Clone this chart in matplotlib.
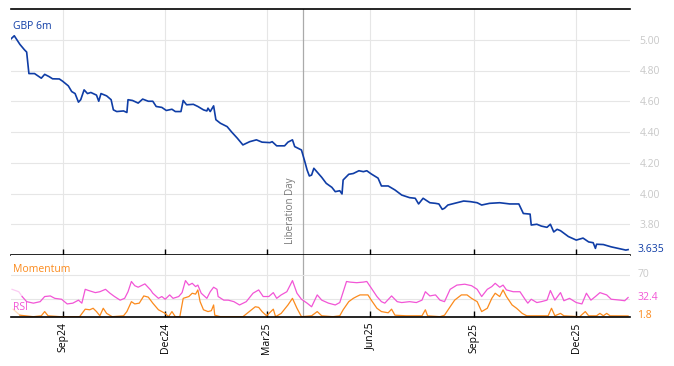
import matplotlib
matplotlib.use('Agg')
import matplotlib.pyplot as plt
import matplotlib.dates as mdates
import pandas as pd

# all x positions are days counted from 1 Sep 2024
origin = pd.Timestamp('2024-09-01')

gbp_day = [-46, -43, -38, -34, -32, -30, -25, -19, -16, -12, -9, -3, 0, 5, 8, 11, 14, 16, 19, 22,
           25, 30, 32, 34, 39, 43, 45, 48, 54, 57, 58, 62, 67, 71, 76, 80, 83, 88, 92, 97,
           100, 105, 107, 110, 116, 120, 125, 128, 129, 131, 134, 136, 140, 146, 150, 155, 160, 166, 172, 177,
           184, 186, 190, 197, 200, 204, 206, 212, 215, 217, 219, 221, 223, 227, 230, 234, 239, 242, 246, 248,
           249, 254, 258, 263, 267, 270, 274, 280, 283, 289, 295, 301, 308, 313, 316, 320, 326, 331, 334, 337,
           339, 342, 348, 356, 362, 368, 372, 379, 388, 397, 405, 409, 415, 416, 421, 425, 430, 433, 436, 439,
           442, 449, 456, 462, 467, 471, 473, 474, 480, 487, 495, 500, 502]
gbp_6m = [5.005, 5.026, 4.97, 4.935, 4.92, 4.78, 4.78, 4.75, 4.775, 4.76, 4.746, 4.745, 4.73, 4.70, 4.663, 4.65, 4.594, 4.61, 4.674, 4.65,
          4.657, 4.64, 4.60, 4.65, 4.635, 4.61, 4.544, 4.533, 4.537, 4.527, 4.61, 4.605, 4.588, 4.614, 4.60, 4.60, 4.566, 4.56, 4.54, 4.548,
          4.533, 4.533, 4.605, 4.577, 4.58, 4.566, 4.544, 4.537, 4.555, 4.533, 4.57, 4.48, 4.457, 4.435, 4.40, 4.36, 4.316, 4.337, 4.349, 4.334,
          4.331, 4.337, 4.31, 4.31, 4.334, 4.349, 4.305, 4.283, 4.207, 4.153, 4.114, 4.12, 4.164, 4.13, 4.105, 4.066, 4.04, 4.012, 4.018, 3.997,
          4.088, 4.125, 4.13, 4.148, 4.142, 4.148, 4.127, 4.10, 4.049, 4.049, 4.023, 3.99, 3.973, 3.969, 3.932, 3.969, 3.94, 3.936, 3.932, 3.897,
          3.904, 3.925, 3.936, 3.951, 3.947, 3.94, 3.925, 3.936, 3.94, 3.932, 3.932, 3.87, 3.866, 3.795, 3.80, 3.788, 3.78, 3.80, 3.75, 3.767,
          3.758, 3.72, 3.697, 3.71, 3.685, 3.68, 3.643, 3.67, 3.668, 3.653, 3.64, 3.632, 3.635]

rsi_day = [-45, -39, -36, -32, -26, -20, -16, -11, -7, -1, 4, 9, 14, 17, 20, 23, 29, 33, 38, 42,
           46, 51, 55, 58, 61, 64, 67, 73, 78, 80, 85, 88, 91, 95, 98, 103, 106, 109, 112, 115,
           118, 120, 123, 128, 131, 134, 137, 138, 143, 147, 152, 157, 163, 169, 174, 178, 183, 187, 190, 194,
           199, 202, 204, 208, 212, 217, 221, 226, 230, 236, 242, 246, 252, 255, 261, 267, 270, 274, 279, 283,
           286, 292, 297, 301, 308, 314, 319, 322, 326, 331, 335, 339, 344, 350, 357, 363, 368, 372, 377, 381,
           384, 388, 391, 394, 400, 406, 411, 413, 416, 421, 425, 430, 433, 437, 442, 445, 450, 456, 461, 465,
           469, 473, 477, 483, 487, 495, 499, 502]
rsi = [46, 42, 34, 25.5, 23, 25.5, 34, 35, 31, 29.5, 21.7, 23, 28, 23, 46, 44, 40.5, 42, 46, 39.5,
       34, 28, 31, 42, 59, 52, 49.5, 55, 45, 39.5, 31, 34, 29.5, 36.7, 31, 34, 40.5, 60.5, 53, 56,
       50.5, 53, 39.5, 31, 42, 49.5, 46, 34, 28, 28, 25.5, 20, 25.5, 39.5, 45, 34, 34, 40.5, 31, 36.7,
       42, 53, 60.5, 39.5, 29.5, 23, 17, 36.7, 28, 23, 20, 24, 59, 58, 57, 58, 59, 48, 34, 25.5,
       23, 35, 25.5, 24, 25.5, 24, 28, 42, 35, 36.7, 28, 25.5, 46, 53, 54.5, 52, 46, 34, 46, 50.5,
       56, 49.5, 53, 45, 42, 42, 28, 23, 29.5, 24, 25.5, 28, 44, 28, 40.5, 27, 31, 24, 21.7, 39.5,
       28, 34, 40.5, 36.7, 29.5, 28, 27, 32.4]

mom_day = [-44, -38, -26, -19, -16, -13, -2, 15, 20, 24, 27, 30, 33, 36, 39, 44, 54, 57, 61, 64,
           68, 72, 76, 80, 85, 88, 91, 94, 97, 100, 104, 107, 112, 115, 118, 120, 122, 125, 129, 132,
           134, 135, 140, 160, 166, 171, 174, 177, 181, 187, 189, 194, 200, 204, 208, 212, 221, 226, 230, 240,
           246, 249, 254, 258, 261, 264, 271, 274, 279, 283, 289, 292, 295, 305, 319, 322, 324, 335, 339, 344,
           348, 354, 359, 363, 368, 372, 377, 381, 384, 388, 391, 394, 399, 403, 408, 412, 431, 434, 437, 442,
           445, 459, 464, 467, 474, 477, 480, 483, 486, 502]
momentum = [13, 3, 0.5, 2, 9, 2, 0.5, 0.5, 13, 12, 14.5, 9, 2, 14.5, 6, 0.5, 2, 9, 25.5, 21.7,
            23, 35, 33, 23, 12, 9, 6, 0.5, 9, 0.5, 0.5, 31, 34, 39.5, 38, 45, 25.5, 12, 9, 10.5,
            20, 3, 0.5, 0.5, 9.5, 17, 16, 9, 2, 13, 0.5, 6, 20, 31, 14.5, 0.5, 2, 9, 2, 0.5,
            2, 12, 25.5, 31, 34, 36.7, 36.7, 28, 14.5, 9, 7, 13, 3, 2, 2, 12, 2, 0.5, 3, 17,
            28, 36.7, 36.7, 31, 25.5, 9, 14.5, 31, 39.5, 34, 45, 34, 20, 14.5, 6, 2, 2, 14.5, 2, 6,
            2, 0.5, 9, 2, 2, 6, 2, 6, 2, 1.8]

tick_dates = ['2024-09-01', '2024-12-01', '2025-03-01', '2025-06-01', '2025-09-01', '2025-12-01']
price_ticks = [3.80, 4.00, 4.20, 4.40, 4.60, 4.80, 5.00]
liberation_day = '2025-04-02'

BLUE = '#0f3da6'
PINK = '#f255d6'
ORANGE = '#fb8a1c'
GRID = '#e6e6e6'
LABEL = '#c8c8c8'

plt.rcParams['font.family'] = ['Open Sans', 'DejaVu Sans']


def to_dates(days):
    return origin + pd.to_timedelta(days, unit='D')


fig = plt.figure(figsize=(6.74, 3.66), dpi=100)
ax = fig.add_axes([11 / 674, 1 - 255 / 366, 619 / 674, 246 / 366])
ax2 = fig.add_axes([11 / 674, 1 - 317 / 366, 619 / 674, 62 / 366], sharex=ax)

x_lo = origin + pd.Timedelta(days=-45.9)
x_hi = origin + pd.Timedelta(days=503.7)
ticks = pd.to_datetime(tick_dates)
lib = pd.Timestamp(liberation_day)

# price panel
ax.plot(to_dates(gbp_day), gbp_6m, color=BLUE, lw=1.2, zorder=3)
ax.set_xlim(x_lo, x_hi)
ax.set_ylim(3.60, 5.20)
ax.set_yticks(price_ticks)
ax.yaxis.tick_right()
ax.tick_params(axis='y', length=0, labelsize=7.5, labelcolor=LABEL, pad=7)
ax.set_yticklabels([f'{v:.2f}' for v in price_ticks])
ax.set_xticks(ticks)
ax.tick_params(axis='x', direction='in', length=4, width=1, color='black', labelbottom=False)
ax.grid(True, color=GRID, lw=0.8)
for s in ['left', 'right']:
    ax.spines[s].set_visible(False)
for s in ['top', 'bottom']:
    ax.spines[s].set_linewidth(1.2)
ax.axvline(lib, color='#aaaaaa', lw=0.9, zorder=2)
ax.text(lib - pd.Timedelta(days=6), 3.67, 'Liberation Day', rotation=90, ha='right', va='bottom',
        fontsize=7, color='#777777')
ax.text(0.004, 0.93, 'GBP 6m', transform=ax.transAxes, color=BLUE, fontsize=7.5, va='center')
ax.text(1.012, (gbp_6m[-1] - 3.60) / 1.60, f'{gbp_6m[-1]:.3f}', transform=ax.transAxes,
        color=BLUE, fontsize=7.5, va='center')

# oscillator panel
r_dates = to_dates(rsi_day)
m_dates = to_dates(mom_day)
ax2.plot(r_dates[:3], rsi[:3], color=PINK, lw=0.9, alpha=0.3)
ax2.plot(r_dates[2:], rsi[2:], color=PINK, lw=0.9)
ax2.plot(m_dates[:2], momentum[:2], color=ORANGE, lw=0.9, alpha=0.3)
ax2.plot(m_dates[1:], momentum[1:], color=ORANGE, lw=0.9)
ax2.axvline(lib, color='#aaaaaa', lw=0.9, zorder=0)
ax2.set_ylim(0, 103)
ax2.set_yticks([30, 70])
ax2.grid(True, color=GRID, lw=0.8)
ax2.yaxis.tick_right()
ax2.set_yticklabels([])
ax2.tick_params(axis='y', length=0)
ax2.tick_params(axis='x', direction='in', length=4, width=1, color='black',
                labelrotation=90, labelsize=7.5, pad=4)
ax2.xaxis.set_major_formatter(mdates.DateFormatter('%b%y'))
for s in ['left', 'right', 'top']:
    ax2.spines[s].set_visible(False)
ax2.spines['bottom'].set_linewidth(1.2)

ax2.text(1.012, 70 / 103, '70', transform=ax2.transAxes, color=LABEL, fontsize=7.5, va='center')
ax2.text(1.012, rsi[-1] / 103, f'{rsi[-1]:.1f}', transform=ax2.transAxes, color=PINK, fontsize=7.5, va='center')
ax2.text(1.012, momentum[-1] / 103, f'{momentum[-1]:.1f}', transform=ax2.transAxes, color=ORANGE,
         fontsize=7.5, va='center')
ax2.text(0.004, 0.77, 'Momentum', transform=ax2.transAxes, color=ORANGE, fontsize=7.5, va='center')
ax2.text(0.004, 0.16, 'RSI', transform=ax2.transAxes, color=PINK, fontsize=7.5, va='center')

fig.savefig('out.png', dpi=100)
